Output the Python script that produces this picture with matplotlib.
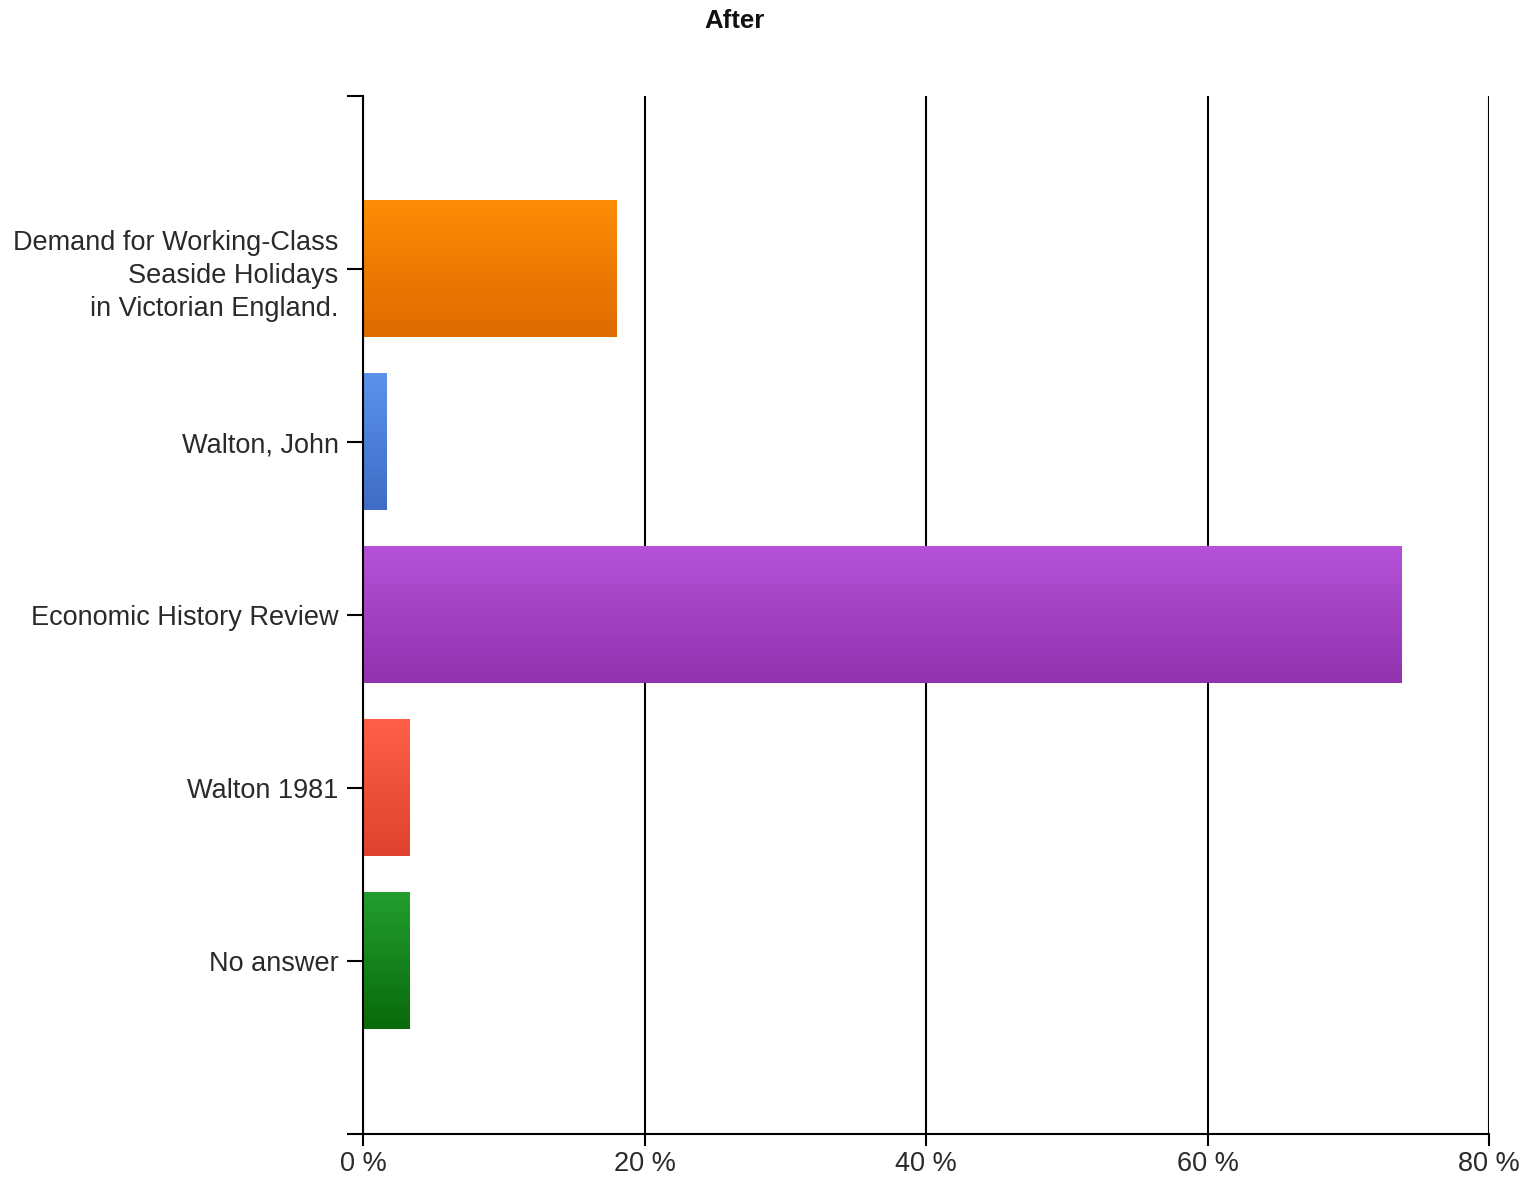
import numpy as np
import matplotlib
matplotlib.use('Agg')
import matplotlib.pyplot as plt
from matplotlib.colors import LinearSegmentedColormap

plt.rcParams['font.family'] = ['Liberation Sans', 'DejaVu Sans']

# answers and share of responses (%)
categories = ['Demand for Working-Class\nSeaside Holidays\nin Victorian England.',
              'Walton, John',
              'Economic History Review',
              'Walton 1981',
              'No answer']
values = [18.03, 1.64, 73.77, 3.28, 3.28]
top_colors = ['#ff8c05', '#5c92ea', '#b552d8', '#ff5f47', '#239e30']
bottom_colors = ['#de6a00', '#3f6cc6', '#9232ae', '#dd432e', '#086a0a']
x_ticks = [0, 20, 40, 60, 80]
x_labels = ['0 %', '20 %', '40 %', '60 %', '80 %']

fig = plt.figure(figsize=(15.3, 11.82), dpi=100)
ax = fig.add_axes([363 / 1530, 1 - 1134 / 1182, (1489 - 363) / 1530, (1134 - 96) / 1182])

bar_h = 0.79
grad = np.linspace(0, 1, 256).reshape(-1, 1)
for i, (v, c1, c2) in enumerate(zip(values, top_colors, bottom_colors)):
    cmap = LinearSegmentedColormap.from_list('g%d' % i, [c1, c2])
    ax.imshow(grad, cmap=cmap, aspect='auto', origin='upper',
              extent=[0, v, i + bar_h / 2, i - bar_h / 2], zorder=2)

ax.set_xlim(0, 80)
ax.set_ylim(len(categories), -1)

ax.set_axisbelow(True)
ax.grid(axis='x', color='black', linewidth=1.5)
ax.grid(axis='y', visible=False)

ax.set_xticks(x_ticks)
ax.set_xticklabels(x_labels, fontsize=19.5, color='#2a2a2a')
ax.set_yticks(list(range(-1, len(categories) + 1)))
ax.set_yticklabels([''] + categories + [''], fontsize=19.5, color='#2a2a2a',
                   linespacing=1.35)
ax.tick_params(axis='y', length=11.5, width=1.5, pad=6)
ax.tick_params(axis='x', length=8.5, width=1.5, pad=4)

for s in ['top', 'right']:
    ax.spines[s].set_visible(False)
for s in ['left', 'bottom']:
    ax.spines[s].set_linewidth(1.5)

fig.text(734 / 1530, 1 - 21 / 1182, 'After', fontsize=18.5, fontweight='bold',
         ha='center', va='center', color='#111111')

fig.savefig('out.png', dpi=100)
